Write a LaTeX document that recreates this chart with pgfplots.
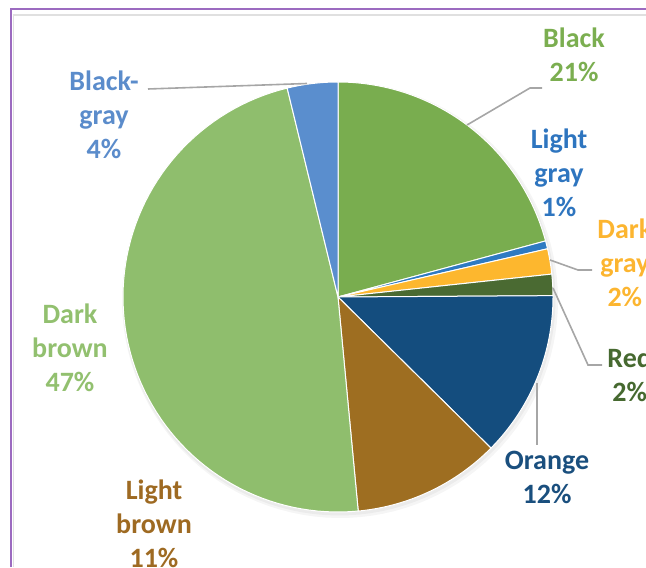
\documentclass[border=0pt]{standalone}
\usepackage{pgfplots}
\pgfplotsset{compat=1.18}
\usepackage{fontspec}
\setmainfont{Carlito}
\definecolor{cBlack}{HTML}{79AD4F}
\definecolor{cLightgray}{HTML}{2E7AC2}
\definecolor{cDarkgray}{HTML}{FDB72E}
\definecolor{cRed}{HTML}{4A6A32}
\definecolor{cOrange}{HTML}{144D7E}
\definecolor{cLightbrown}{HTML}{9E6E21}
\definecolor{cDarkbrown}{HTML}{8FBE6D}
\definecolor{cBlackgray}{HTML}{5A8ECE}
\definecolor{lBlack}{HTML}{7BAE50}
\definecolor{lLightgray}{HTML}{2E75BF}
\definecolor{lDarkgray}{HTML}{FCB530}
\definecolor{lRed}{HTML}{466930}
\definecolor{lOrange}{HTML}{1A4F7E}
\definecolor{lLightbrown}{HTML}{9E6A22}
\definecolor{lDarkbrown}{HTML}{92C06F}
\definecolor{lBlackgray}{HTML}{5B8CCB}
\definecolor{leader}{HTML}{A6A6A6}
\definecolor{frame}{HTML}{9C6BC0}
\tikzset{lbl/.style={font=\bfseries\fontsize{14}{17}\selectfont, align=center, inner sep=0pt}}
\def\cum{0}
\newcommand\slice[2]{%
  \pgfmathsetmacro\angA{90-3.6*\cum}%
  \pgfmathsetmacro\newcum{\cum+#1}%
  \global\let\cum\newcum
  \pgfmathsetmacro\angB{90-3.6*\cum}%
  \edef\doslice{\noexpand\addplot[fill=#2, draw=white, line width=0.5pt, domain=\angB:\angA, samples=80]
    ({338+215*cos(x)},{-297+215*sin(x)}) -- (axis cs:338,-297) -- cycle;}%
  \doslice}
\begin{document}
\begin{tikzpicture}
\begin{axis}[
  scale only axis, width=323pt, height=283.5pt,
  xmin=0, xmax=646, ymin=-567, ymax=0,
  hide axis, clip=false,
]
% frame
\addplot[frame, line width=1pt] coordinates {(11,-567) (11,-9.5) (646,-9.5)};
\addplot[black!12, line width=0.6pt] coordinates {(13.5,-567) (13.5,-15) (646,-15)};
% soft shadow
\addplot[fill=black, opacity=0.04, draw=none, domain=0:360, samples=120] ({340+218*cos(x)},{-300+218*sin(x)});
\addplot[fill=black, opacity=0.04, draw=none, domain=0:360, samples=120] ({339+216.5*cos(x)},{-299+216.5*sin(x)});
% slices (percent of total)
\slice{20.8}{cBlack}
\slice{0.6}{cLightgray}
\slice{1.9}{cDarkgray}
\slice{1.6}{cRed}
\slice{12.5}{cOrange}
\slice{11.1}{cLightbrown}
\slice{47.7}{cDarkbrown}
\slice{3.8}{cBlackgray}
% leader lines
\addplot[leader, line width=0.8pt] coordinates {(148,-89) (307,-83.5)};
\addplot[leader, line width=0.8pt] coordinates {(467,-125) (530,-88) (542,-88)};
\addplot[leader, line width=0.8pt] coordinates {(550,-260) (578,-270) (592,-270)};
\addplot[leader, line width=0.8pt] coordinates {(553,-288) (588,-365) (602,-365)};
\addplot[leader, line width=0.8pt] coordinates {(537,-383) (537,-445)};
% labels
\node[lbl, text=lBlack] at (axis cs:574,-55) {Black\\21\%};
\node[lbl, text=lLightgray] at (axis cs:559,-173) {Light\\gray\\1\%};
\node[lbl, text=lDarkgray, anchor=west] at (axis cs:597,-263) {Dark\\gray\\2\%};
\node[lbl, text=lRed, anchor=west] at (axis cs:607,-375) {Red\\2\%};
\node[lbl, text=lOrange] at (axis cs:547,-477) {Orange\\12\%};
\node[lbl, text=lLightbrown] at (axis cs:154,-524) {Light\\brown\\11\%};
\node[lbl, text=lDarkbrown] at (axis cs:70,-348) {Dark\\brown\\47\%};
\node[lbl, text=lBlackgray] at (axis cs:104,-115) {Black-\\gray\\4\%};
\end{axis}
\pgfresetboundingbox
\useasboundingbox (current axis.south west) rectangle (current axis.north east);
\end{tikzpicture}
\end{document}
